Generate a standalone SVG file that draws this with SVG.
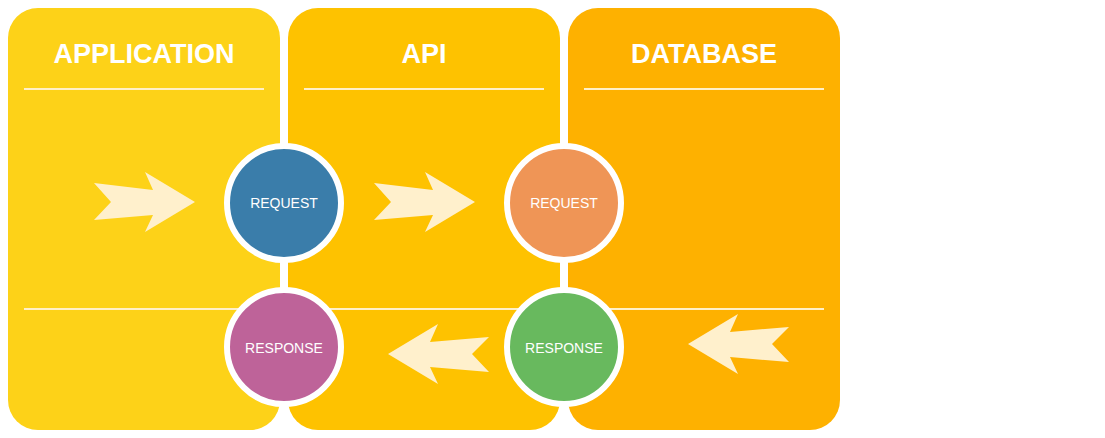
<svg xmlns="http://www.w3.org/2000/svg" width="1105" height="438" viewBox="0 0 1105 438">
<style>
.title{font-family:"Liberation Sans",Arial,sans-serif;font-weight:bold;font-size:27px;fill:#fff;text-anchor:middle}
.lbl{font-family:"Liberation Sans",Arial,sans-serif;font-size:14px;fill:#fff;text-anchor:middle}
.sep{stroke:#FFF0C8;stroke-width:2}
.arrow{fill:#FFF0CC}
.circ{stroke:#fff;stroke-width:6}
</style>
<rect width="1105" height="438" fill="#fff"/>
<g id="panel-application">
<rect x="8" y="8" width="272" height="422" rx="30" fill="#FDD218"/>
<text class="title" x="144" y="63">APPLICATION</text>
<line class="sep" x1="24" y1="89" x2="264" y2="89"/>
<line class="sep" x1="24" y1="309" x2="264" y2="309"/>
</g>
<g id="panel-api">
<rect x="288" y="8" width="272" height="422" rx="30" fill="#FEC200"/>
<text class="title" x="424" y="63">API</text>
<line class="sep" x1="304" y1="89" x2="544" y2="89"/>
<line class="sep" x1="304" y1="309" x2="544" y2="309"/>
</g>
<g id="panel-database">
<rect x="568" y="8" width="272" height="422" rx="30" fill="#FEB100"/>
<text class="title" x="704" y="63">DATABASE</text>
<line class="sep" x1="584" y1="89" x2="824" y2="89"/>
<line class="sep" x1="584" y1="309" x2="824" y2="309"/>
</g>
<g id="connectors">
<polygon class="arrow" points="94,183 153,190 145,172 195,202 145,232 153,215 94,220 111,202"/>
<polygon class="arrow" points="374,183 433,190 425,172 475,202 425,232 433,215 374,220 391,202"/>
<polygon class="arrow" points="489,337 430,342 438,324 388,354 438,384 430,367 489,372 472,354"/>
<polygon class="arrow" points="789,327 730,332 738,314 688,344 738,374 730,357 789,362 772,344"/>
</g>
<g id="app-request">
<circle class="circ" cx="284" cy="203" r="57" fill="#3A7DAA"/>
<text class="lbl" x="284" y="208">REQUEST</text>
</g>
<g id="app-response">
<circle class="circ" cx="284" cy="347" r="57" fill="#BE6399"/>
<text class="lbl" x="284" y="353">RESPONSE</text>
</g>
<g id="db-request">
<circle class="circ" cx="564" cy="203" r="57" fill="#EF9556"/>
<text class="lbl" x="564" y="208">REQUEST</text>
</g>
<g id="db-response">
<circle class="circ" cx="564" cy="347" r="57" fill="#68B95E"/>
<text class="lbl" x="564" y="353">RESPONSE</text>
</g>
</svg>
